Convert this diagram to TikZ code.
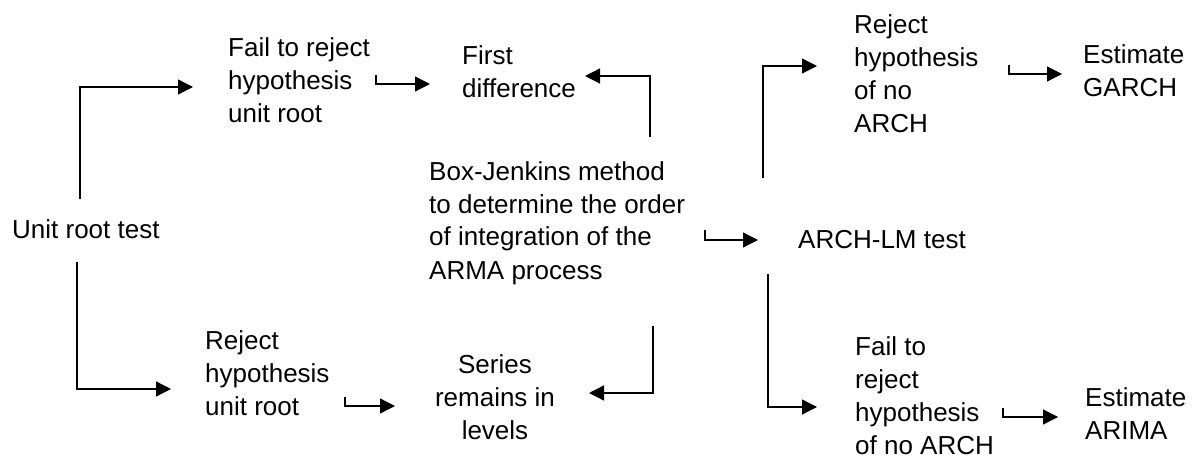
\documentclass[tikz,border=0pt]{standalone}
\usepackage{fontspec}
\setmainfont{Liberation Sans}
\usetikzlibrary{arrows.meta}
\begin{document}
\begin{tikzpicture}[x=1pt,y=-1pt,
  txt/.style={inner sep=0pt, align=left, anchor=base west, font=\fontsize{26}{33}\selectfont},
  ctxt/.style={inner sep=0pt, align=center, anchor=base, font=\fontsize{26}{33}\selectfont},
  arr/.style={line width=1.3pt, -{Triangle[length=15pt,width=15pt]}}]
\useasboundingbox (0,0) rectangle (1194,457);
% nodes (anchored at the baseline of their last line)
\node[txt] (unit) at (12,238) {Unit root test};
\node[txt] (fail1) at (228,123) {Fail to reject\\hypothesis\\unit root};
\node[txt] (first) at (462,98) {First\\difference};
\node[txt] (bj) at (429,279) {Box-Jenkins method\\to determine the order\\of integration of the\\ARMA process};
\node[txt] (archlm) at (798,248) {ARCH-LM test};
\node[txt] (rejarch) at (854,133) {Reject\\hypothesis\\of no\\ARCH};
\node[txt] (garch) at (1083,97) {Estimate\\GARCH};
\node[txt] (rej1) at (205,415) {Reject\\hypothesis\\unit root};
\node[ctxt] (series) at (495,439) {Series\\remains in\\levels};
\node[txt] (failarch) at (855,454) {Fail to\\reject\\hypothesis\\of no ARCH};
\node[txt] (arima) at (1085,439) {Estimate\\ARIMA};
% connector end points
\coordinate (u1) at (80,199);   \coordinate (f1in) at (193,87);
\coordinate (u2) at (77,262);   \coordinate (r1in) at (171,389);
\coordinate (f1out) at (376,75); \coordinate (fdin) at (430,84);
\coordinate (bj1) at (650,137); \coordinate (fdin2) at (585,76);
\coordinate (bj2) at (705,230); \coordinate (alin) at (758,240);
\coordinate (bj3) at (653,326); \coordinate (srin) at (589,393);
\coordinate (r1out) at (345,397); \coordinate (srin2) at (395,406);
\coordinate (al1) at (763,178); \coordinate (rain) at (817,66);
\coordinate (al2) at (768,274); \coordinate (fain) at (817,407);
\coordinate (raout) at (1009,65); \coordinate (gin) at (1062,74);
\coordinate (faout) at (1003,408); \coordinate (ain) at (1058,417);
% connectors
\draw[arr] (u1) |- (f1in);
\draw[arr] (u2) |- (r1in);
\draw[arr] (f1out) |- (fdin);
\draw[arr] (bj1) |- (fdin2);
\draw[arr] (bj2) |- (alin);
\draw[arr] (bj3) |- (srin);
\draw[arr] (r1out) |- (srin2);
\draw[arr] (al1) |- (rain);
\draw[arr] (al2) |- (fain);
\draw[arr] (raout) |- (gin);
\draw[arr] (faout) |- (ain);
\end{tikzpicture}
\end{document}
